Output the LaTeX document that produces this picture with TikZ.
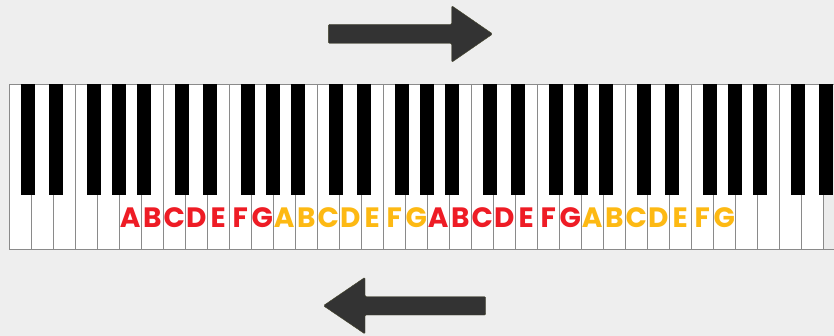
\documentclass[tikz,border=0pt]{standalone}
\usepackage{fontspec}
\setmainfont{Poppins}
\definecolor{bg}{HTML}{EEEEEE}
\definecolor{keyred}{HTML}{EE1C25}
\definecolor{keyorange}{HTML}{FDB913}
\definecolor{arrowgray}{HTML}{333333}
\definecolor{lineg}{HTML}{8A8A8A}
\definecolor{lastkey}{HTML}{ECECEC}
\tikzset{
  keyline/.style={draw=lineg, line width=0.8pt},
  blackkey/.style={fill=black},
  notelabel/.style={anchor=base, inner sep=0pt, font=\fontsize{28}{30}\selectfont\bfseries},
  bigarrow/.style={fill=arrowgray, draw=arrowgray!90!yellow, line width=0.4pt, rounded corners=1.2pt}
}
\begin{document}
\begin{tikzpicture}[x=1pt,y=-1pt]
\fill[bg] (0,0) rectangle (834,336);
\useasboundingbox (0,0) rectangle (834,336);
% white keys
\fill[white] (9.3,84.3) rectangle (823.3,249);
\fill[lastkey] (823.3,84.3) rectangle (834,249);
\foreach \i in {1,...,37} \draw[keyline] ({9.3+22*\i},84.3) -- ({9.3+22*\i},249);
\draw[keyline] (834,84.3) -- (9.3,84.3) -- (9.3,249) -- (834,249);
% black keys
\begin{scope}
\clip (9.3,84.3) rectangle (834,249);
\foreach \o in {0,...,5}{
  \foreach \c in {12,40,78,103,128}{
    \fill[blackkey] ({9.3+154*\o+\c},84.3) rectangle ({9.3+154*\o+\c+14},195);
  }
}
\end{scope}
% note letters
\foreach \g in {0,1,2,3}{
  \pgfmathsetmacro{\isred}{mod(\g,2)==0}
  \foreach \l [count=\j from 0] in {A,B,C,D,E,F,G}{
    \pgfmathtruncatemacro{\k}{5+7*\g+\j}
    \ifnum\isred=1\relax
      \node[notelabel, text=keyred] (L\k) at ({9.3+22*\k+11},227.7) {\l};
    \else
      \node[notelabel, text=keyorange] (L\k) at ({9.3+22*\k+11},227.7) {\l};
    \fi
  }
}
% arrows
\draw[bigarrow] (328.3,24.3) -- (451.7,24.3) -- (451.7,5.7) -- (492.7,34) -- (451.7,62.3) -- (451.7,43.3) -- (328.3,43.3) -- cycle;
\draw[bigarrow] (485.7,296.7) -- (365,296.7) -- (365,277.3) -- (323.3,305.7) -- (365,334) -- (365,315) -- (485.7,315) -- cycle;
\end{tikzpicture}
\end{document}
